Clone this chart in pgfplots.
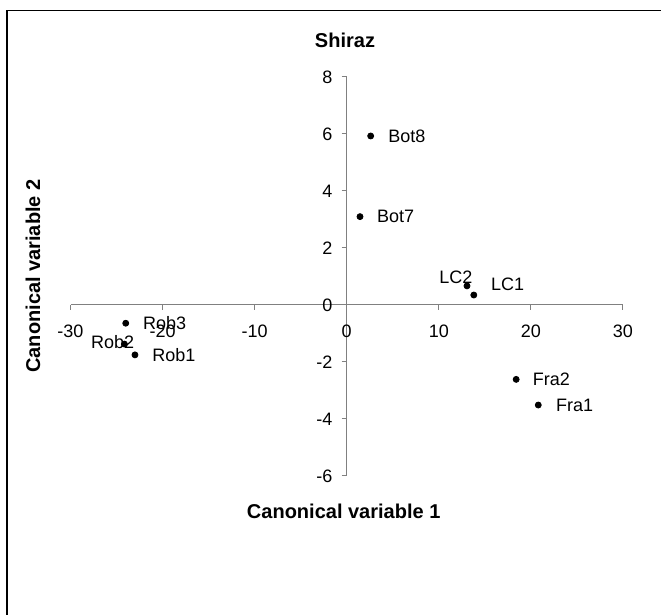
\documentclass[border=0pt]{standalone}
\usepackage{fontspec}
\setmainfont{Liberation Sans}
\usepackage{pgfplots}
\pgfplotsset{compat=1.18}
\begin{document}
\begin{tikzpicture}[x=1pt,y=1pt]
\useasboundingbox (0,0) rectangle (330.5,307.5);
\draw[line width=0.6pt] (3.5,-20) -- (3.5,302.25) -- (345,302.25);
\begin{axis}[
  at={(35.25pt,69.5pt)}, anchor=south west,
  scale only axis, width=276.25pt, height=199.5pt,
  xmin=-30, xmax=30, ymin=-6, ymax=8,
  axis lines=middle,
  axis line style={-, color=gray, line width=0.5pt},
  clip=false,
  xtick={-30,-20,...,30}, ytick={-6,-4,...,8},
  hide obscured x ticks=false, hide obscured y ticks=false,
  tick align=outside, major tick length=2.5pt,
  tick style={gray, line width=0.5pt},
  /pgf/number format/assume math mode=true,
  ticklabel style={font=\fontsize{9}{10}\selectfont, inner sep=0pt},
  xticklabel style={anchor=north, yshift=-7.1pt},
  yticklabel style={anchor=east, xshift=-4.5pt},
]
\addplot[only marks, mark=*, mark size=1.5pt, black] coordinates {
(-24.0,-0.64) (-24.15,-1.37) (-23.0,-1.75) (2.6,5.93) (1.44,3.1)
(13.06,0.67) (13.8,0.35) (18.4,-2.61) (20.8,-3.51)};
\tikzset{lab/.style={font=\fontsize{9}{10}\selectfont, inner sep=0pt}}
\node[lab, anchor=west, xshift=8.5pt] at (axis cs:-24.0,-0.64) {Rob3};
\node[lab, anchor=center, xshift=-5.9pt, yshift=1.15pt] at (axis cs:-24.15,-1.37) {Rob2};
\node[lab, anchor=west, xshift=8.5pt] at (axis cs:-23.0,-1.75) {Rob1};
\node[lab, anchor=west, xshift=8.6pt] at (axis cs:2.6,5.93) {Bot8};
\node[lab, anchor=west, xshift=8.3pt] at (axis cs:1.44,3.1) {Bot7};
\node[lab, anchor=center, xshift=-5.5pt, yshift=4.15pt] at (axis cs:13.06,0.67) {LC2};
\node[lab, anchor=west, xshift=8.5pt, yshift=5.3pt] at (axis cs:13.8,0.35) {LC1};
\node[lab, anchor=west, xshift=8.2pt] at (axis cs:18.4,-2.61) {Fra2};
\node[lab, anchor=west, xshift=8.7pt] at (axis cs:20.8,-3.51) {Fra1};
\end{axis}
\node[font=\fontsize{10}{12}\selectfont\bfseries] at (172.5,287.5) {Shiraz};
\node[font=\fontsize{10}{12}\selectfont\bfseries] at (171.85,51.75) {Canonical variable 1};
\node[font=\fontsize{10}{12}\selectfont\bfseries, rotate=90] at (16.5,169.5) {Canonical variable 2};
\end{tikzpicture}
\end{document}
